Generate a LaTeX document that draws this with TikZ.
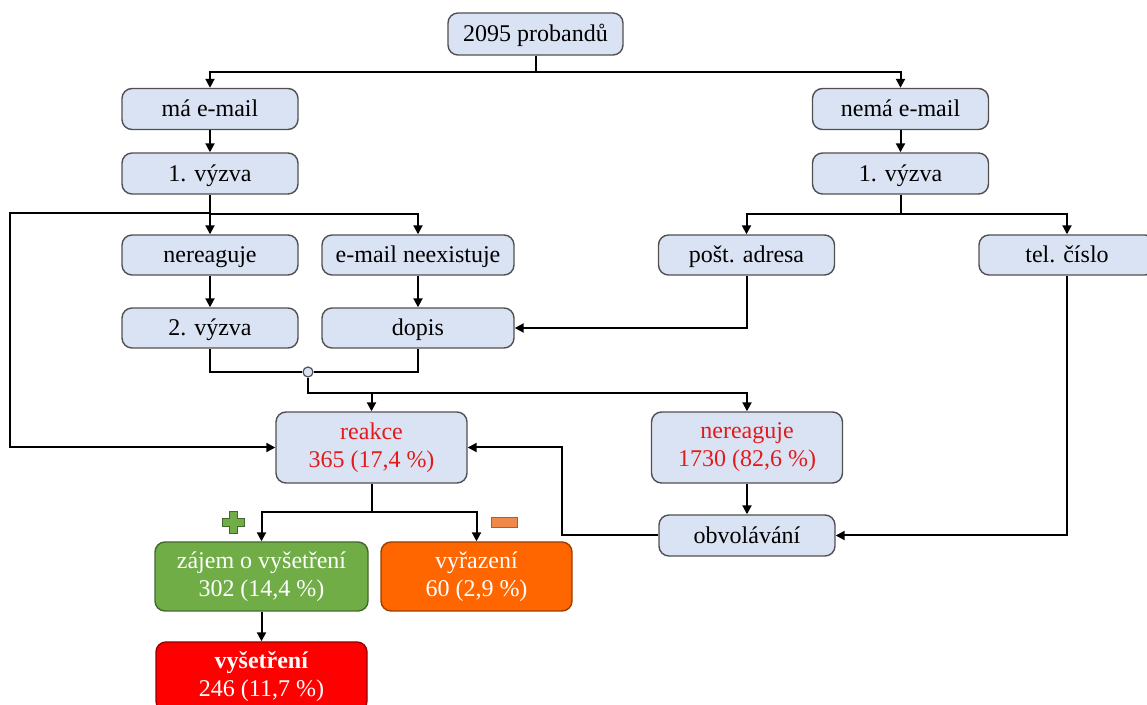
\documentclass[tikz,border=0pt]{standalone}
\usepackage{fontspec}
\setmainfont{Liberation Serif}
\usetikzlibrary{calc,arrows.meta}

\definecolor{boxfill}{HTML}{DAE3F3}
\definecolor{boxline}{HTML}{505050}
\definecolor{textred}{HTML}{E31A1C}
\definecolor{zelena}{HTML}{70AD47}
\definecolor{oranz}{HTML}{FF6600}
\definecolor{minus}{HTML}{F0884A}
\definecolor{cervena}{HTML}{FF0000}

\tikzset{
    box/.style={draw=boxline, fill=boxfill, rounded corners=5pt, line width=0.7pt,
        minimum width=88pt, minimum height=20.5pt, inner sep=0pt, align=center,
        text height=10pt, text depth=2pt, font=\fontsize{12}{14}\selectfont},
    widebox/.style={box, minimum width=96pt},
    bigbox/.style={box, minimum width=95.5pt, minimum height=35.5pt, text height=, text depth=},
    conn/.style={line width=1pt, -{Triangle[length=4.5pt,width=4.5pt]}},
    plain/.style={line width=1pt}
}

\begin{document}
\begin{tikzpicture}[x=0.5pt,y=-0.5pt]
            \useasboundingbox (0,0) rectangle (1147,705);
            \clip (0,0) rectangle (1147,705);

            \node (P) at (535.5,34) [box, minimum width=87.5pt, minimum height=21pt] {2095 probandů};
            \node (M) at (210,109) [box] {má e-mail};
            \node (N) at (900.5,109) [box] {nemá e-mail};
            \node (V1) at (210,173.5) [box] {1. výzva};
            \node (V2) at (900.5,173.5) [box] {1. výzva};
            \node (NR) at (210,255) [box, minimum height=20pt] {nereaguje};
            \node (NE) at (418,255) [widebox, minimum height=20pt] {e-mail neexistuje};
            \node (PA) at (746.5,255) [box, minimum height=20pt] {pošt. adresa};
            \node (TC) at (1067,255) [box, minimum height=20pt] {tel. číslo};
            \node (V3) at (210,328) [box, minimum height=20pt] {2. výzva};
            \node (D) at (418,328) [widebox, minimum height=20pt] {dopis};
            \node (J) at (308,372) [circle, draw=boxline, fill=boxfill, line width=0.6pt, inner sep=0pt, minimum size=5pt] {};
            \node (R) at (371.5,447.5) [bigbox, text=textred] {reakce\\365 (17,4 \%)};
            \node (X) at (747,447.5) [bigbox, text=textred] {nereaguje\\1730 (82,6 \%)};
            \node (O) at (747,535.5) [box] {obvolávání};
            \node (Z) at (261.5,576.5) [bigbox, fill=zelena, draw=zelena!60!black, text=white,
                minimum width=106.5pt, minimum height=34.5pt] {zájem o vyšetření\\302 (14,4 \%)};
            \node (Y) at (476.5,576.5) [bigbox, fill=oranz, draw=oranz!60!black, text=white,
                minimum height=34.5pt] {vyřazení\\60 (2,9 \%)};
            \node (E) at (261.5,676.5) [bigbox, fill=cervena, draw=cervena!60!black, text=white,
                minimum width=105.5pt, minimum height=34.5pt] {\textbf{vyšetření}\\246 (11,7 \%)};
            \coordinate (L) at (10,213);

            \foreach \n in {M, N}
                \draw [conn] (P.south) -- ++(0,16) -| (\n.north);
            \draw [conn] (M) -- (V1);
            \draw [conn] (N) -- (V2);
            \foreach \n in {NR, NE}
                \draw [conn] (V1.south) -- ++(0,19) -| (\n.north);
            \draw [conn] (V1.south) |- (L) |- (R.west);
            \foreach \n in {PA, TC}
                \draw [conn] (V2.south) -- ++(0,19) -| (\n.north);
            \draw [conn] (NR) -- (V3);
            \draw [conn] (NE) -- (D);
            \draw [conn] (PA.south) |- (D.east);
            \draw [plain] (V3.south) |- (J.west);
            \draw [plain] (D.south) |- (J.east);
            \foreach \n in {R, X}
                \draw [conn] (J.south) -- ++(0,15) -| (\n.north);
            \draw [conn] (X) -- (O);
            \draw [conn] (O.west) -- ++(-96,0) |- (R.east);
            \draw [conn] (TC.south) |- (O.east);
            \foreach \n in {Z, Y}
                \draw [conn] (R.south) -- ++(0,28) -| (\n.north);
            \draw [conn] (Z) -- (E);

            % plus and minus
            \filldraw [fill=zelena, draw=zelena!60!black, line width=0.5pt]
                (229,512) -- (237,512) -- (237,519) -- (244,519) -- (244,527) -- (237,527)
                -- (237,534) -- (229,534) -- (229,527) -- (222,527) -- (222,519) -- (229,519) -- cycle;
            \filldraw [fill=minus, draw=minus!70!black, line width=0.5pt] (491,518) rectangle (517,528);

        \end{tikzpicture}
\end{document}
